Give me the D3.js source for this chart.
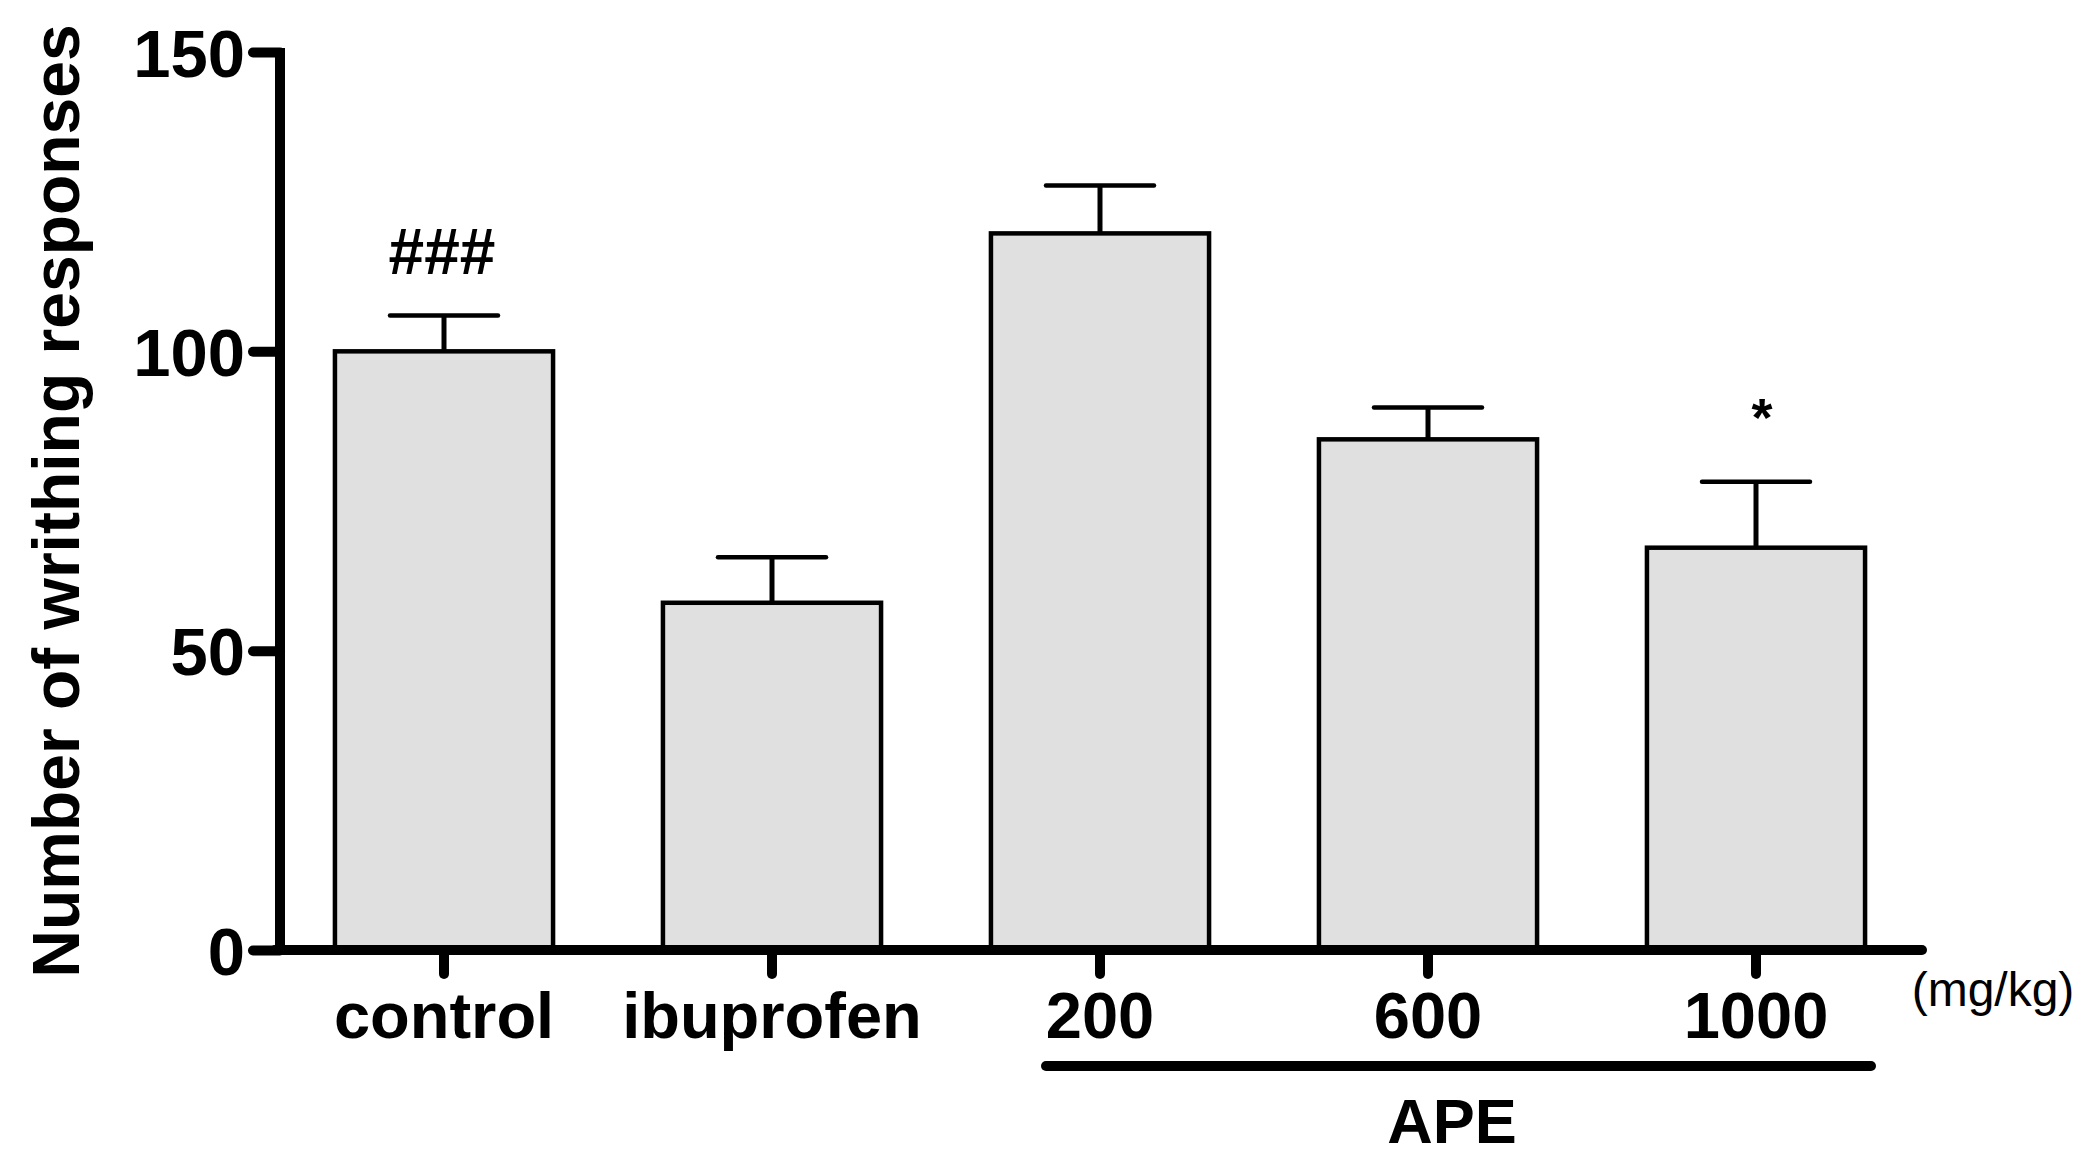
<!DOCTYPE html>
<html>
<head>
<meta charset="utf-8">
<script src="https://cdn.jsdelivr.net/npm/d3@7"></script>
<style>
  html, body { margin: 0; padding: 0; background: #fff; }
  svg { display: block; }
  text { font-family: "Liberation Sans", Arial, sans-serif; fill: #000; }
</style>
</head>
<body>
<svg id="chart" width="2098" height="1165"></svg>
<script>
// ---- data ----
const categories = ["control", "ibuprofen", "200", "600", "1000"];
const means = [100, 58, 119.7, 85.3, 67.2];
const sems = [6.0, 7.6, 8.0, 5.3, 11.0];
const annotations = ["###", "", "", "", "*"];
const yTicks = [0, 50, 100, 150];
const groupLabel = "APE";
const unitLabel = "(mg/kg)";
const yTitle = "Number of writhing responses";

// ---- layout ----
const svg = d3.select("#chart");
const y = d3.scaleLinear().domain([0, 150]).range([950, 52]);
const x = d3.scaleBand().domain(categories).range([280, 1920])
  .paddingInner(0.335).paddingOuter(0.1675);

const data = categories.map((c, i) => ({ c, m: means[i], s: sems[i], a: annotations[i] }));
const AX = 280; // y-axis x position (from x range start)

// bars
svg.append("g").selectAll("rect").data(data).join("rect")
  .attr("x", d => x(d.c))
  .attr("y", d => y(d.m))
  .attr("width", x.bandwidth())
  .attr("height", d => y(0) - y(d.m))
  .attr("fill", "#e0e0e0")
  .attr("stroke", "#000")
  .attr("stroke-width", 4.5);

// error bars
const eb = svg.append("g").attr("stroke", "#000").attr("stroke-linecap", "round");
eb.selectAll("line.stem").data(data).join("line").attr("class", "stem")
  .attr("x1", d => x(d.c) + x.bandwidth() / 2)
  .attr("x2", d => x(d.c) + x.bandwidth() / 2)
  .attr("y1", d => y(d.m))
  .attr("y2", d => y(d.m + d.s))
  .attr("stroke-width", 5)
  .attr("stroke-linecap", "butt");
eb.selectAll("line.cap").data(data).join("line").attr("class", "cap")
  .attr("x1", d => x(d.c) + x.bandwidth() / 2 - 54)
  .attr("x2", d => x(d.c) + x.bandwidth() / 2 + 54)
  .attr("y1", d => y(d.m + d.s))
  .attr("y2", d => y(d.m + d.s))
  .attr("stroke-width", 4.5);

// annotations
svg.append("g").selectAll("text").data(data.filter(d => d.a)).join("text")
  .attr("x", d => x(d.c) + x.bandwidth() / 2 + (d.a === "*" ? 6 : -2))
  .attr("y", d => y(d.m + d.s) - (d.a === "*" ? 46 : 41))
  .attr("text-anchor", "middle")
  .attr("font-size", d => d.a === "*" ? 54 : 64)
  .attr("font-weight", "bold")
  .text(d => d.a);

// y axis
const yAxis = svg.append("g").attr("transform", `translate(${AX},0)`)
  .call(d3.axisLeft(y).tickValues(yTicks).tickSize(27).tickPadding(8).tickSizeOuter(0));
yAxis.select(".domain").remove();
yAxis.selectAll(".tick line").attr("stroke", "#000").attr("stroke-width", 10).attr("stroke-linecap", "round");
yAxis.selectAll(".tick text").attr("font-size", 67).attr("font-weight", "bold").attr("dy", "0.36em")
  .attr("fill", "#000");

// x axis
const xAxis = svg.append("g").attr("transform", `translate(0,${y(0)})`)
  .call(d3.axisBottom(x).tickSize(24).tickPadding(18).tickSizeOuter(0));
xAxis.select(".domain").remove();
xAxis.selectAll(".tick line").attr("stroke", "#000").attr("stroke-width", 10).attr("stroke-linecap", "round");
xAxis.selectAll(".tick text").attr("font-size", 65).attr("font-weight", "bold").attr("fill", "#000");

// axis lines
svg.append("line").attr("x1", AX).attr("x2", AX).attr("y1", y(150) - 4).attr("y2", y(0) + 5)
  .attr("stroke", "#000").attr("stroke-width", 10);
svg.append("line").attr("x1", AX - 5).attr("x2", 1922).attr("y1", y(0)).attr("y2", y(0))
  .attr("stroke", "#000").attr("stroke-width", 10).attr("stroke-linecap", "round");

// y title
svg.append("text")
  .attr("transform", `translate(79,501) rotate(-90)`)
  .attr("text-anchor", "middle")
  .attr("font-size", 66)
  .attr("font-weight", "bold")
  .text(yTitle);

// unit label
svg.append("text").attr("x", 1993).attr("y", 1006).attr("text-anchor", "middle")
  .attr("font-size", 48).text(unitLabel);

// group bracket
const g0 = x("200") + x.bandwidth() / 2 - 54;
const g1 = x("1000") + x.bandwidth() / 2 + 115;
svg.append("line").attr("x1", g0).attr("x2", g1).attr("y1", 1066).attr("y2", 1066)
  .attr("stroke", "#000").attr("stroke-width", 10).attr("stroke-linecap", "round");
svg.append("text").attr("x", 1452).attr("y", 1143).attr("text-anchor", "middle")
  .attr("font-size", 63).attr("font-weight", "bold").text(groupLabel);
</script>
</body>
</html>
